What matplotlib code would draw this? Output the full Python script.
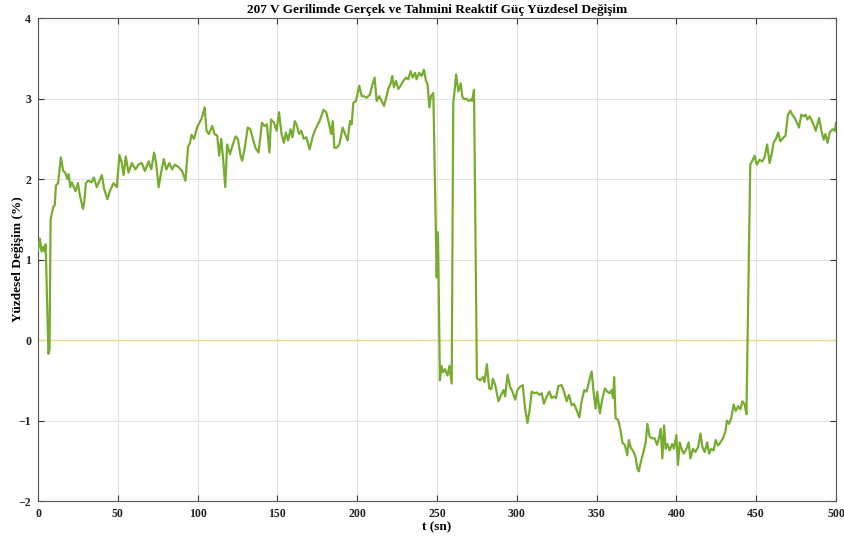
import matplotlib
matplotlib.use("Agg")
import matplotlib.pyplot as plt
import numpy as np

# Time (s) and percentage change of reactive power at 207 V
t_sn = [
    0, 1.2, 2.2, 3.3, 4.2, 4.8, 6.5, 7.2, 7.9, 9.5, 10.5, 11.2, 12.6, 14.3, 15.8,
    17.0, 18.5, 19.2, 20.2, 21.2, 22.0, 23.5, 25.0, 26.2, 28.2, 29.0, 30.0, 31.5,
    33.6, 35.0, 36.8, 38.5, 40.0, 41.4, 43.5, 45.0, 47.3, 49.4, 51.0, 52.5, 53.6,
    55.0, 56.7, 58.8, 61.0, 63.0, 65.0, 67.0, 69.3, 71.0, 72.7, 74.0, 75.6, 77.3,
    78.8, 80.4, 82.3, 84.0, 85.7, 88.0, 90.3, 92.4, 94.0, 95.2, 96.2, 97.7, 99.8,
    102.5, 104.4, 105.6, 107.0, 109.2, 110.6, 112.3, 113.5, 114.8, 116.0, 117.3,
    118.5, 120.3, 121.7, 123.8, 125.2, 126.9, 127.9, 129.4, 131.4, 133.0, 134.7,
    136.2, 138.2, 140.3, 141.9, 143.4, 145.0, 146.0, 147.9, 149.5, 151.0, 152.6,
    154.1, 155.3, 156.7, 158.2, 159.4, 160.9, 162.3, 163.6, 165.0, 166.5, 168.1,
    170.2, 172.3, 174.3, 176.4, 178.9, 180.6, 182.2, 183.7, 184.7, 185.7, 187.2,
    188.8, 190.9, 192.4, 194.0, 195.5, 196.5, 197.6, 199.2, 201.3, 202.8, 204.2,
    205.9, 208.0, 209.6, 210.9, 212.2, 213.8, 215.3, 216.8, 218.4, 219.7, 220.9,
    222.0, 223.0, 224.3, 225.8, 227.2, 228.9, 230.6, 232.0, 233.5, 234.8, 236.3,
    237.2, 238.9, 240.4, 241.8, 243.1, 244.1, 245.2, 246.2, 247.7, 249.8, 250.6,
    251.0, 251.8, 252.8, 253.8, 255.0, 256.6, 257.8, 259.2, 260.2, 260.9, 262.0,
    263.4, 264.9, 265.9, 267.4, 268.4, 269.9, 271.1, 272.0, 273.2, 275.0, 275.4,
    277.1, 278.75, 279.8, 281.25, 282.7, 284.0, 285.0, 286.5, 288.5, 290.2, 291.7,
    292.7, 294.2, 295.8, 297.3, 299.0, 300.4, 302.0, 303.75, 305.2, 306.7, 307.9,
    309.4, 311.0, 312.5, 314.2, 315.6, 317.0, 318.75, 320.4, 321.9, 323.3, 324.6,
    326.0, 328.1, 329.6, 331.25, 332.7, 334.4, 335.8, 337.5, 339.2, 340.6, 342.3,
    343.75, 345.2, 346.9, 348.0, 349.4, 350.4, 352.1, 353.5, 355.2, 356.7, 358.3,
    359.4, 360.4, 361.0, 361.9, 363.5, 365.0, 366.25, 367.7, 369.2, 370.2, 371.5,
    373.0, 374.4, 375.6, 376.5, 377.4, 379.1, 380.8, 381.8, 383.3, 384.8, 386.4,
    387.9, 389.1, 390.2, 391.2, 392.3, 393.3, 394.4, 395.8, 397.3, 398.5, 400.0,
    401.0, 402.1, 403.6, 404.6, 406.3, 407.7, 408.8, 410.4, 411.9, 413.6, 415.1,
    416.3, 417.8, 419.3, 420.5, 421.9, 423.4, 424.6, 426.1, 427.6, 429.2, 430.7,
    431.7, 433.0, 434.5, 435.9, 437.2, 438.7, 440.1, 441.4, 442.8, 443.9, 446.3,
    447.9, 449.0, 450.4, 452.1, 453.8, 455.2, 456.9, 458.4, 459.9, 460.9, 462.6,
    463.8, 465.1, 466.8, 468.4, 469.9, 471.4, 472.6, 474.1, 475.6, 476.8, 478.3,
    479.8, 481.0, 482.1, 483.5, 485.0, 486.3, 487.3, 488.4, 489.4, 490.9, 492.3,
    493.4, 494.7, 496.1, 497.8, 499.3, 500.0,
]
yuzde_degisim = [
    1.12, 1.26, 1.10, 1.16, 1.10, 1.19, -0.17, -0.12, 1.50, 1.65, 1.68, 1.92, 1.95,
    2.27, 2.10, 2.08, 2.00, 2.06, 1.90, 1.96, 1.92, 1.85, 1.95, 1.80, 1.63, 1.72,
    1.95, 1.98, 1.96, 2.02, 1.90, 1.98, 2.05, 1.88, 1.75, 1.85, 1.95, 1.90, 2.30,
    2.20, 2.05, 2.28, 2.08, 2.20, 2.12, 2.18, 2.20, 2.10, 2.22, 2.12, 2.33, 2.20,
    1.90, 2.10, 2.25, 2.12, 2.20, 2.12, 2.18, 2.15, 2.10, 1.98, 2.40, 2.45, 2.55,
    2.50, 2.65, 2.75, 2.89, 2.60, 2.56, 2.66, 2.56, 2.54, 2.29, 2.50, 2.25, 1.90,
    2.43, 2.31, 2.41, 2.53, 2.50, 2.29, 2.23, 2.37, 2.64, 2.62, 2.50, 2.39, 2.33,
    2.70, 2.66, 2.68, 2.33, 2.74, 2.70, 2.60, 2.83, 2.56, 2.45, 2.58, 2.48, 2.62,
    2.52, 2.72, 2.66, 2.56, 2.60, 2.50, 2.52, 2.37, 2.54, 2.64, 2.72, 2.86, 2.83,
    2.70, 2.56, 2.72, 2.39, 2.39, 2.43, 2.64, 2.56, 2.48, 2.72, 2.68, 2.95, 2.97,
    3.16, 3.03, 3.03, 3.01, 3.05, 3.18, 3.26, 2.97, 3.03, 2.97, 2.91, 3.03, 3.14,
    3.18, 3.28, 3.14, 3.22, 3.12, 3.16, 3.22, 3.26, 3.24, 3.34, 3.26, 3.32, 3.24,
    3.32, 3.28, 3.36, 3.22, 3.18, 2.89, 3.03, 3.07, 0.78, 1.34, 0.80, -0.50, -0.32,
    -0.40, -0.36, -0.44, -0.32, -0.54, 2.95, 3.07, 3.30, 3.09, 3.19, 3.02, 2.99,
    3.00, 2.97, 2.99, 2.97, 3.11, -0.47, -0.48, -0.50, -0.46, -0.52, -0.30, -0.60,
    -0.61, -0.48, -0.56, -0.76, -0.68, -0.62, -0.70, -0.43, -0.58, -0.64, -0.74,
    -0.62, -0.58, -0.56, -0.85, -1.03, -0.89, -0.64, -0.66, -0.65, -0.68, -0.66,
    -0.79, -0.70, -0.64, -0.72, -0.70, -0.72, -0.57, -0.56, -0.64, -0.76, -0.68,
    -0.81, -0.79, -0.87, -0.96, -0.76, -0.62, -0.64, -0.52, -0.39, -0.62, -0.85,
    -0.64, -0.91, -0.74, -0.60, -0.64, -0.66, -0.62, -0.72, -0.46, -0.97, -0.99,
    -1.12, -1.28, -1.30, -1.43, -1.24, -1.34, -1.38, -1.45, -1.60, -1.63, -1.54,
    -1.41, -1.27, -1.04, -1.20, -1.22, -1.22, -1.30, -1.22, -1.10, -1.47, -1.06,
    -1.35, -1.29, -1.37, -1.29, -1.35, -1.18, -1.55, -1.27, -1.37, -1.41, -1.35,
    -1.27, -1.47, -1.35, -1.39, -1.33, -1.16, -1.33, -1.39, -1.27, -1.41, -1.35,
    -1.37, -1.24, -1.31, -1.27, -1.22, -1.14, -1.00, -1.04, -0.96, -0.80, -0.88,
    -0.82, -0.86, -0.76, -0.80, -0.92, 2.18, 2.24, 2.29, 2.18, 2.24, 2.22, 2.27,
    2.43, 2.20, 2.33, 2.45, 2.51, 2.58, 2.47, 2.51, 2.54, 2.80, 2.85, 2.80, 2.76,
    2.70, 2.64, 2.80, 2.78, 2.80, 2.74, 2.78, 2.72, 2.66, 2.60, 2.68, 2.76, 2.60,
    2.49, 2.56, 2.45, 2.58, 2.62, 2.60, 2.70,
]

x_ticks = [0, 50, 100, 150, 200, 250, 300, 350, 400, 450, 500]
y_ticks = [-2, -1, 0, 1, 2, 3, 4]

plt.rcParams['font.family'] = ['Liberation Serif', 'DejaVu Serif']

fig = plt.figure(figsize=(8.45, 5.40), dpi=100)
ax = fig.add_axes([0.045, 0.072, 0.9443, 0.8945])

ax.axhline(0, color='#e9dc8c', lw=1.0, zorder=2)
ax.plot(t_sn, yuzde_degisim, color='#77ac30', lw=1.6, zorder=3)

ax.set_xlim(0, 500)
ax.set_ylim(-2, 4)
ax.set_xticks(x_ticks)
ax.set_yticks(y_ticks)
ax.grid(True, color='#e2e2e2', lw=0.7)
ax.set_axisbelow(True)

for s in ax.spines.values():
    s.set_color('#555555')
    s.set_linewidth(0.8)
ax.tick_params(direction='in', top=True, right=True, length=4,
               color='#333333', labelsize=8.5, pad=5)
for lab in ax.get_xticklabels() + ax.get_yticklabels():
    lab.set_fontweight('bold')
    lab.set_color('#222222')

ax.set_title('207 V Gerilimde Gerçek ve Tahmini Reaktif Güç Yüzdesel Değişim',
             fontsize=9.5, fontweight='bold', pad=4)
ax.set_xlabel('t (sn)', fontsize=9.5, fontweight='bold', labelpad=1)
ax.set_ylabel('Yüzdesel Değişim (%)', fontsize=9.5, fontweight='bold')
ax.yaxis.set_label_coords(-0.018, 0.5)

fig.savefig('out.png', dpi=100)
